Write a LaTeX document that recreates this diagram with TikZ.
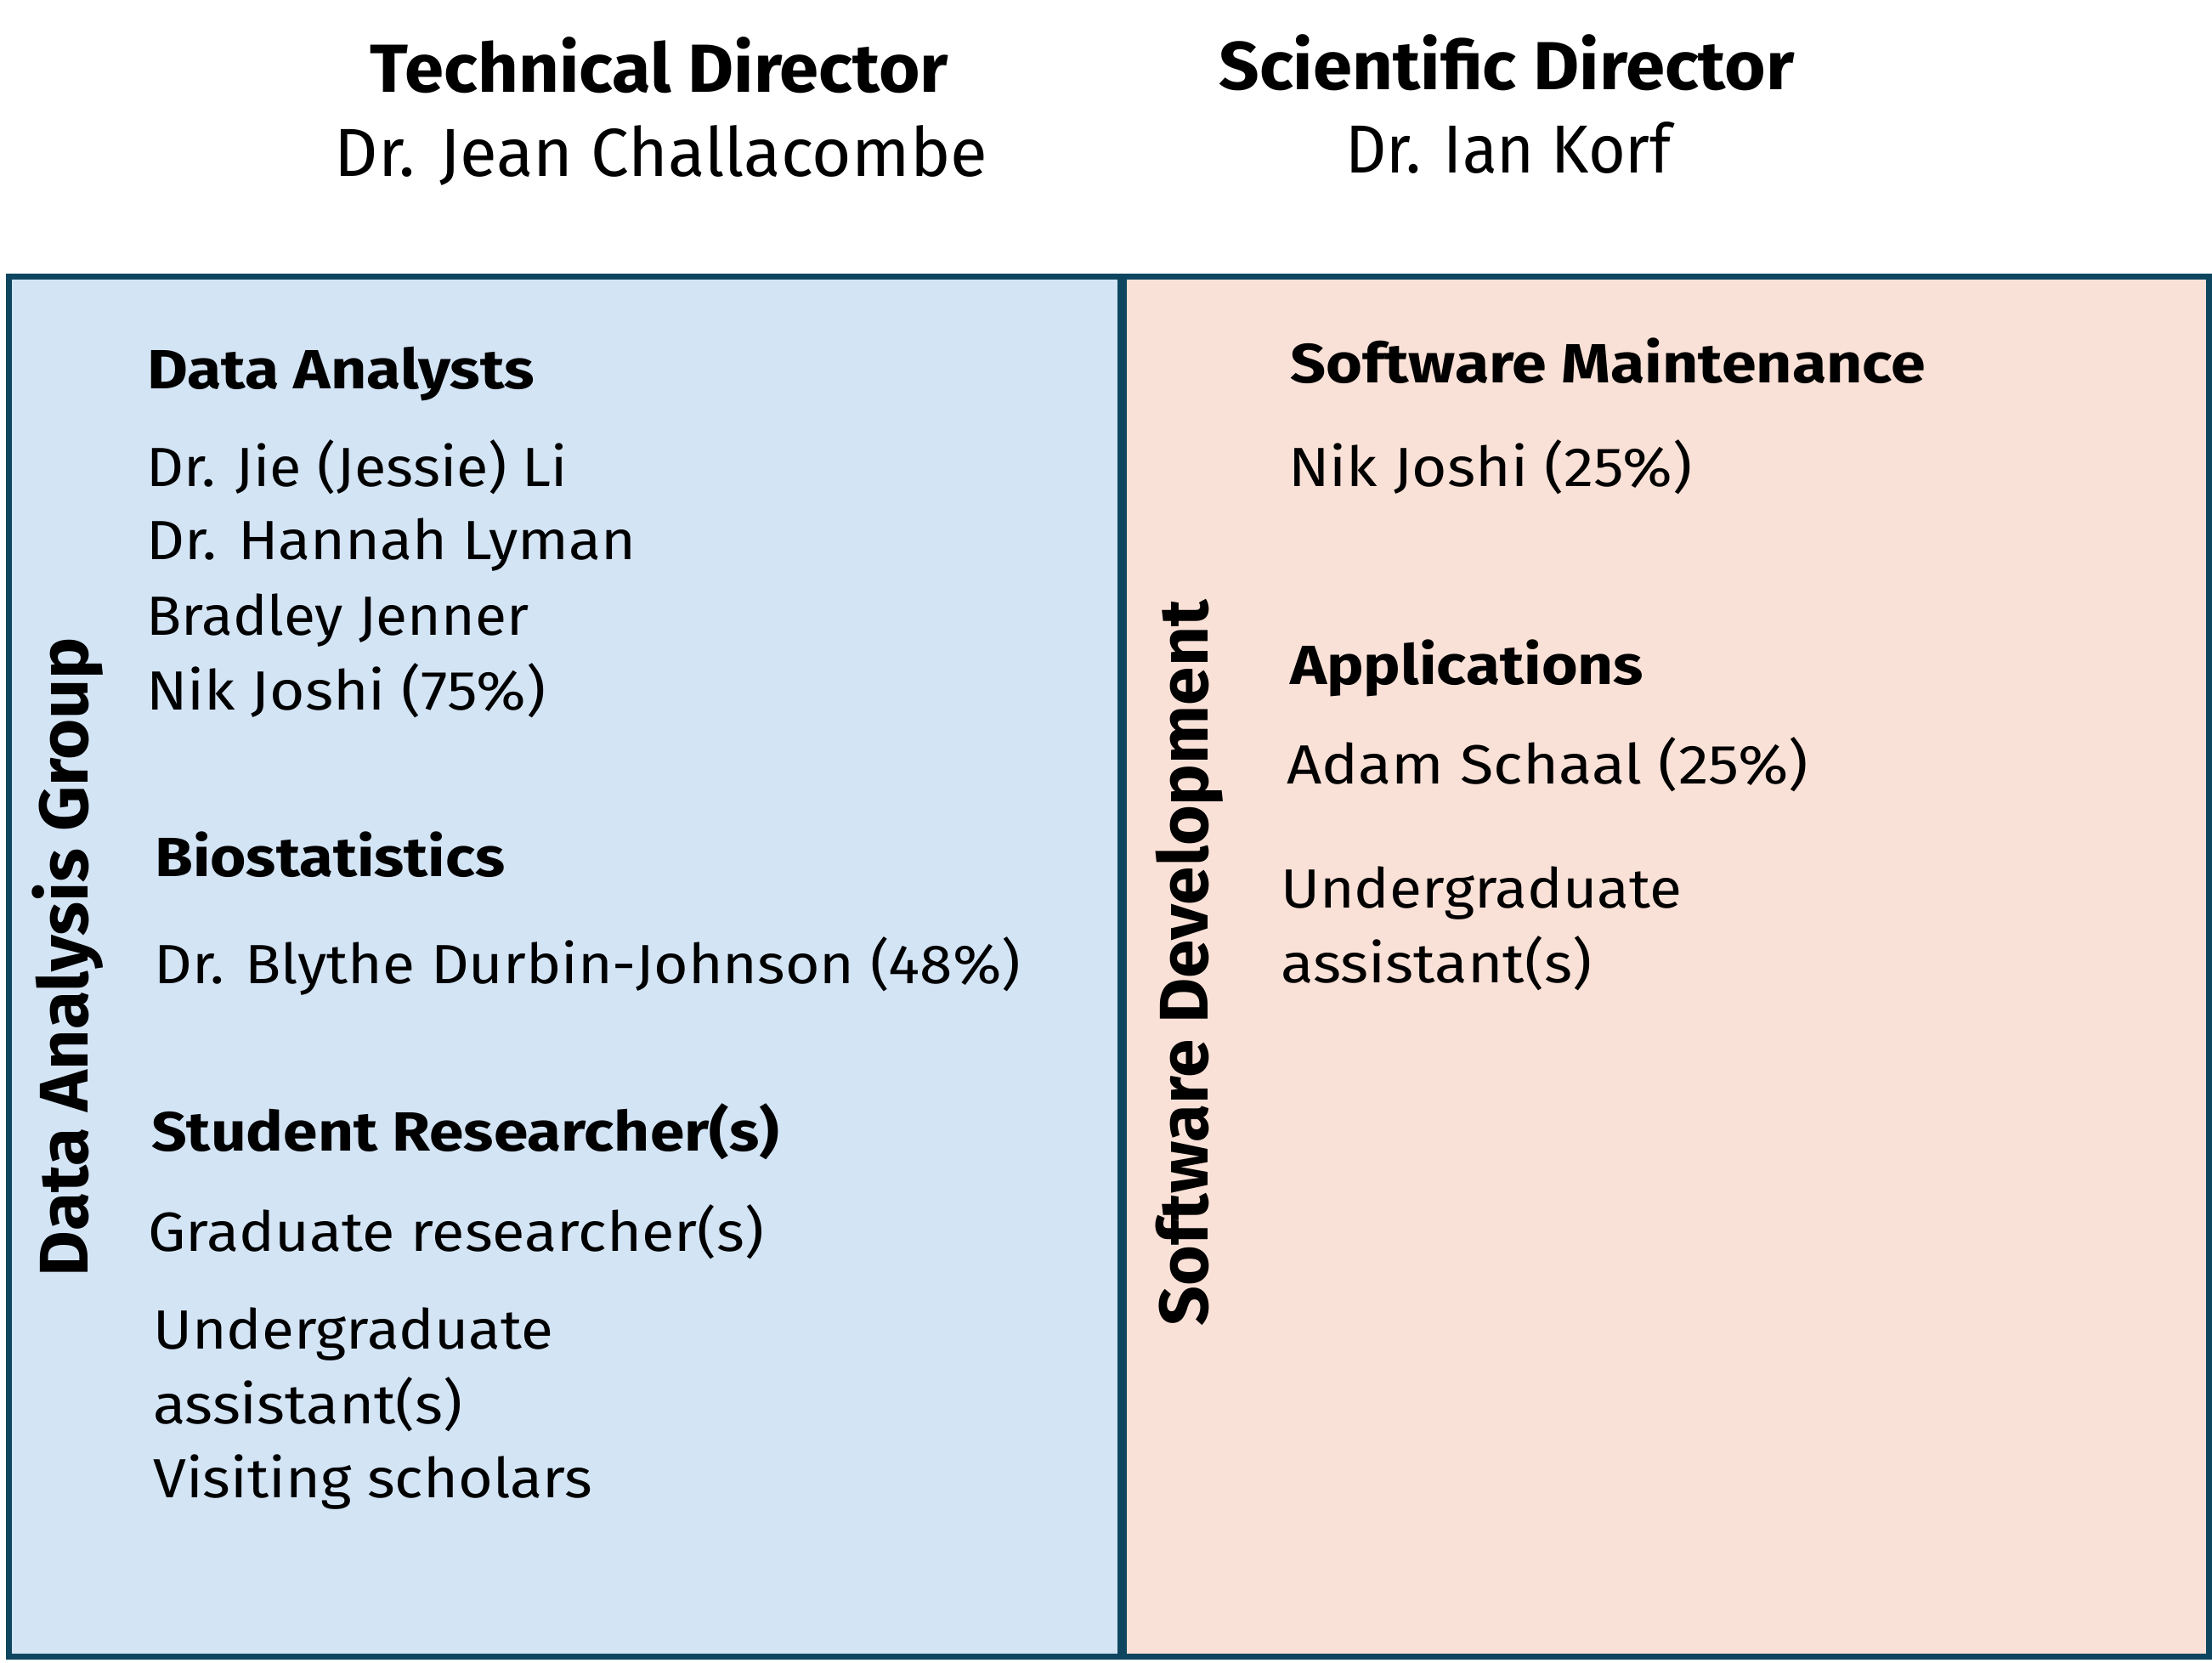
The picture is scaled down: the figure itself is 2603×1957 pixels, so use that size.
\documentclass[tikz,border=0pt]{standalone}
\usepackage{fontspec}
\usepackage{graphicx}
\setmainfont{Fira Sans}
\definecolor{frame}{HTML}{0E4660}
\definecolor{bluefill}{HTML}{D3E4F5}
\definecolor{peachfill}{HTML}{FAE1D7}
\newcommand\fitw[2]{\resizebox{#1pt}{\height}{#2}}
\tikzset{
  title/.style={inner sep=0pt, anchor=base, font=\fontsize{80}{96}\selectfont\bfseries},
  person/.style={inner sep=0pt, anchor=base, font=\fontsize{80}{96}\selectfont},
  head/.style={inner sep=0pt, anchor=base west, font=\fontsize{65}{78}\selectfont\bfseries},
  entry/.style={inner sep=0pt, anchor=base west, font=\fontsize{65}{78}\selectfont},
  side/.style={inner sep=0pt, anchor=base, rotate=90, font=\fontsize{81}{97}\selectfont\bfseries},
}
\begin{document}
\begin{tikzpicture}[x=1pt,y=-1pt]
\useasboundingbox (0,0) rectangle (2603,1957);
% panels
\fill[bluefill] (7,322) rectangle (1320.5,1953);
\fill[peachfill] (1320.5,322) rectangle (2603,1953);
\draw[frame, line width=7pt] (10.5,325.5) rectangle (2599.5,1949.5);
\draw[frame, line width=11pt] (1320.5,325.5) -- (1320.5,1949.5);
% directors
\node[title]  (td)  at (776,108)  {\fitw{680}{Technical Director}};
\node[person] (tdn) at (778,207)  {\fitw{768}{Dr. Jean Challacombe}};
\node[title]  (sd)  at (1773,105) {\fitw{677}{Scientific Director}};
\node[person] (sdn) at (1775,203) {\fitw{384}{Dr. Ian Korf}};
% side labels
\node[side] (dag) at (103,1126) {\fitw{752}{Data Analysis Group}};
\node[side] (swd) at (1421,1133) {\fitw{854}{Software Development}};
% left panel
\node[head]  (da)  at (173,457)  {\fitw{456}{Data Analysts}};
\node[entry] (da1) at (172,572)  {\fitw{496}{Dr. Jie (Jessie) Li}};
\node[entry] (da2) at (172,658)  {\fitw{576}{Dr. Hannah Lyman}};
\node[entry] (da3) at (172,747)  {\fitw{450}{Bradley Jenner}};
\node[entry] (da4) at (172,835)  {\fitw{470}{Nik Joshi (75\%)}};
\node[head]  (bs)  at (182,1031) {\fitw{412}{Biostatistics}};
\node[entry] (bs1) at (181,1157) {\fitw{1020}{Dr. Blythe Durbin-Johnson (48\%)}};
\node[head]  (sr)  at (178,1354) {\fitw{739}{Student Researcher(s)}};
\node[entry] (sr1) at (174,1472) {\fitw{725}{Graduate researcher(s)}};
\node[entry] (sr2) at (180,1587) {\fitw{471}{Undergraduate}};
\node[entry] (sr3) at (180,1675) {\fitw{364}{assistant(s)}};
\node[entry] (sr4) at (180,1762) {\fitw{517}{Visiting scholars}};
% right panel
\node[head]  (sm)  at (1518,450)  {\fitw{748}{Software Maintenance}};
\node[entry] (sm1) at (1516,572)  {\fitw{475}{Nik Joshi (25\%)}};
\node[head]  (ap)  at (1518,805)  {\fitw{416}{Applications}};
\node[entry] (ap1) at (1514,922)  {\fitw{614}{Adam Schaal (25\%)}};
\node[entry] (ap2) at (1507,1068) {\fitw{472}{Undergraduate}};
\node[entry] (ap3) at (1507,1156) {\fitw{366}{assistant(s)}};
\end{tikzpicture}
\end{document}
